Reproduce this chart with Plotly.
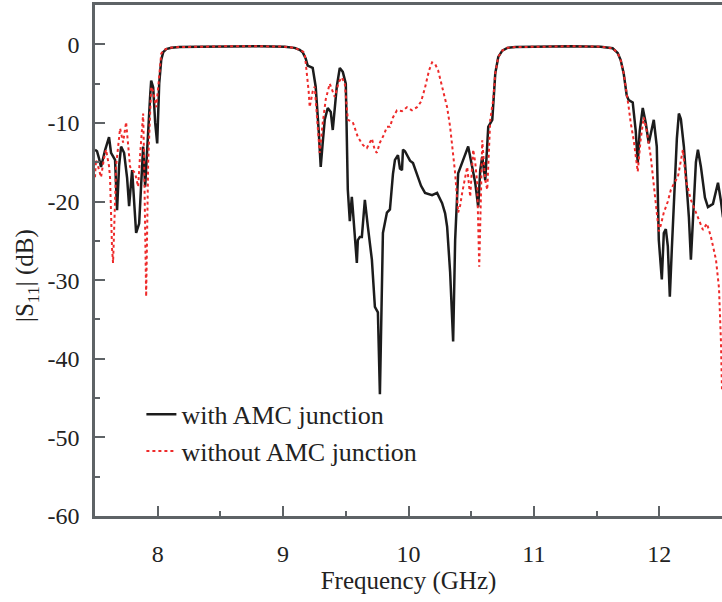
import plotly.graph_objects as go

# with AMC junction
f_with = [7.500, 7.516, 7.532, 7.548, 7.580, 7.612, 7.628, 7.660, 7.676, 7.692, 7.708, 7.732, 7.756, 7.772,
          7.796, 7.828, 7.852, 7.884, 7.900, 7.924, 7.940, 7.948, 7.964, 7.980, 7.996, 8.012, 8.028, 8.044,
          8.068, 8.108, 8.172, 8.332, 8.572, 8.812, 9.012, 9.092, 9.132, 9.156, 9.180, 9.196, 9.236, 9.260,
          9.284, 9.300, 9.316, 9.332, 9.356, 9.380, 9.396, 9.412, 9.428, 9.452, 9.476, 9.500, 9.508, 9.516,
          9.532, 9.548, 9.556, 9.572, 9.588, 9.596, 9.612, 9.628, 9.652, 9.676, 9.708, 9.732, 9.756, 9.772,
          9.788, 9.796, 9.828, 9.852, 9.876, 9.892, 9.916, 9.932, 9.948, 9.956, 9.972, 9.988, 10.012, 10.036,
          10.076, 10.100, 10.132, 10.188, 10.228, 10.268, 10.292, 10.308, 10.332, 10.348, 10.356, 10.372,
          10.396, 10.436, 10.476, 10.508, 10.532, 10.556, 10.572, 10.588, 10.612, 10.636, 10.668, 10.692,
          10.716, 10.748, 10.788, 10.852, 11.052, 11.292, 11.532, 11.628, 11.668, 11.692, 11.716, 11.740,
          11.756, 11.788, 11.812, 11.828, 11.844, 11.868, 11.892, 11.916, 11.956, 11.980, 11.996, 12.020,
          12.036, 12.052, 12.068, 12.084, 12.100, 12.116, 12.140, 12.156, 12.172, 12.196, 12.212, 12.236,
          12.252, 12.268, 12.276, 12.292, 12.308, 12.332, 12.364, 12.388, 12.428, 12.468, 12.492, 12.508]
s_with = [-13.4, -13.6, -14.5, -15.6, -13.5, -11.8, -13.8, -14.7, -21.1, -15.5, -13.0, -13.8, -17.0, -20.6,
          -16.0, -24.0, -22.8, -13.0, -18.1, -10.0, -6.5, -4.6, -5.5, -10.0, -12.6, -5.0, -2.0, -1.0,
          -0.6, -0.45, -0.35, -0.3, -0.25, -0.25, -0.3, -0.45, -0.7, -1.0, -1.8, -2.7, -3.0, -5.4,
          -11.0, -15.6, -12.5, -9.6, -8.1, -8.6, -10.9, -8.0, -5.4, -3.0, -3.5, -5.0, -12.0, -18.5,
          -22.5, -19.4, -21.0, -24.0, -27.8, -24.9, -24.5, -24.5, -19.8, -23.2, -27.4, -33.4, -34.1, -44.5,
          -32.5, -24.0, -21.4, -21.0, -16.5, -14.7, -14.1, -15.8, -16.0, -13.4, -13.6, -14.1, -14.8, -15.1,
          -16.9, -18.0, -18.9, -19.2, -18.9, -20.2, -21.5, -23.2, -29.0, -35.9, -37.8, -24.9,
          -16.4, -14.7, -13.0, -15.6, -17.6, -20.7, -16.0, -14.3, -17.3, -10.5, -9.6, -3.7,
          -1.6, -0.8, -0.45, -0.35, -0.3, -0.25, -0.3, -0.5, -1.1, -2.0, -3.7, -6.5,
          -7.1, -7.4, -11.0, -15.1, -11.0, -8.1, -10.0, -12.6, -9.6, -13.0, -24.9, -29.9,
          -24.0, -23.5, -25.7, -32.1, -26.0, -20.7, -12.0, -8.8, -9.5, -13.0, -16.4, -22.0,
          -27.4, -23.0, -20.7, -15.0, -13.4, -15.6, -19.5, -20.7, -20.3, -17.6, -20.0, -22.0]

# without AMC junction
f_without = [7.500, 7.508, 7.524, 7.548, 7.572, 7.588, 7.612, 7.620, 7.636, 7.644, 7.660, 7.668, 7.700, 7.724,
             7.748, 7.780, 7.820, 7.844, 7.860, 7.884, 7.892, 7.908, 7.924, 7.932, 7.948, 7.964, 7.988, 8.004,
             8.028, 8.052, 8.092, 8.172, 8.332, 8.572, 8.812, 9.012, 9.092, 9.132, 9.156, 9.172, 9.188, 9.204,
             9.212, 9.236, 9.252, 9.276, 9.292, 9.316, 9.340, 9.372, 9.412, 9.444, 9.468, 9.492, 9.516, 9.556,
             9.596, 9.636, 9.668, 9.708, 9.732, 9.748, 9.772, 9.804, 9.828, 9.852, 9.876, 9.908, 9.948, 9.988,
             10.028, 10.068, 10.100, 10.132, 10.164, 10.188, 10.212, 10.236, 10.260, 10.284, 10.308, 10.332,
             10.356, 10.372, 10.396, 10.412, 10.428, 10.452, 10.468, 10.492, 10.516, 10.532, 10.548, 10.564,
             10.580, 10.588, 10.612, 10.628, 10.652, 10.676, 10.692, 10.716, 10.748, 10.788, 10.852, 11.052,
             11.292, 11.532, 11.628, 11.668, 11.692, 11.716, 11.740, 11.756, 11.772, 11.796, 11.828, 11.852,
             11.876, 11.900, 11.932, 11.972, 11.996, 12.012, 12.036, 12.068, 12.092, 12.124, 12.148, 12.188,
             12.212, 12.252, 12.308, 12.348, 12.380, 12.412, 12.452, 12.476, 12.492, 12.500]
s_without = [-16.9, -14.7, -15.5, -16.9, -14.5, -13.4, -15.5, -17.0, -26.0, -27.8, -20.0, -15.5, -10.7, -12.5,
             -9.9, -15.6, -16.4, -18.1, -14.0, -8.8, -15.0, -32.1, -15.0, -11.0, -5.4, -6.0, -8.0, -5.5,
             -1.2, -0.7, -0.45, -0.35, -0.3, -0.25, -0.25, -0.3, -0.45, -0.7, -0.9, -1.1, -3.3, -6.0,
             -8.0, -6.0, -5.4, -10.0, -13.8, -10.0, -7.0, -5.0, -6.7, -4.8, -4.2, -5.0, -9.6, -9.9,
             -11.8, -12.8, -13.2, -12.0, -13.5, -13.8, -12.5, -11.5, -10.5, -10.5, -9.3, -8.4, -8.5, -8.0,
             -8.4, -8.0, -7.3, -5.5, -3.3, -2.3, -2.5, -3.3, -4.8, -6.5, -8.0, -10.5,
             -14.0, -16.4, -21.4, -20.5, -18.9, -17.0, -15.6, -19.4, -13.4, -15.0, -17.6, -28.3,
             -18.0, -12.2, -17.3, -18.5, -9.6, -7.0, -3.7, -1.6, -0.8, -0.45, -0.35, -0.3,
             -0.25, -0.3, -0.5, -1.1, -2.0, -3.7, -6.0, -8.0, -10.0, -12.2, -16.2, -12.0,
             -9.3, -11.0, -14.3, -19.8, -23.8, -23.0, -21.4, -20.0, -18.5, -17.5, -16.9, -13.4,
             -17.3, -19.8, -21.9, -23.6, -22.8, -24.5, -27.4, -31.0, -38.0, -44.0]

x_ticks = [8, 9, 10, 11, 12]
y_ticks = [0, -10, -20, -30, -40, -50, -60]

FONT = "Liberation Serif, Times New Roman, serif"
AXIS_COLOR = "#5e6366"

fig = go.Figure()
fig.add_trace(go.Scatter(x=f_with, y=s_with, mode="lines", name="with AMC junction",
                         line=dict(color="#1c1c1c", width=2.5)))
fig.add_trace(go.Scatter(x=f_without, y=s_without, mode="lines", name="without AMC junction",
                         line=dict(color="#ee2a2a", width=2, dash="dot")))

fig.update_layout(
    width=722, height=602,
    margin=dict(l=95, r=0, t=5, b=86),
    paper_bgcolor="white", plot_bgcolor="white",
    font=dict(family=FONT, size=24, color="#222222"),
    showlegend=True,
    legend=dict(x=0.074, y=0.245, xanchor="left", yanchor="top",
                font=dict(family=FONT, size=26, color="#222222"),
                bgcolor="rgba(0,0,0,0)", traceorder="normal"),
    xaxis=dict(range=[7.5, 12.5], tickvals=x_ticks, ticktext=[str(v) for v in x_ticks],
               ticks="inside", ticklen=10, tickwidth=2, tickcolor=AXIS_COLOR,
               showline=True, linecolor=AXIS_COLOR, linewidth=2.5, mirror=True,
               showgrid=False, zeroline=False, ticklabelstandoff=14,
               minor=dict(ticks="inside", ticklen=5, tickwidth=2, tickcolor=AXIS_COLOR, dtick=0.5, showgrid=False),
               title=dict(text="Frequency (GHz)", font=dict(family=FONT, size=25), standoff=6)),
    yaxis=dict(range=[-60, 5], tickvals=y_ticks, ticktext=[str(v) for v in y_ticks],
               ticks="inside", ticklen=10, tickwidth=2, tickcolor=AXIS_COLOR,
               showline=True, linecolor=AXIS_COLOR, linewidth=2.5, mirror=False,
               showgrid=False, zeroline=False, ticklabelstandoff=8,
               minor=dict(ticks="inside", ticklen=5, tickwidth=2, tickcolor=AXIS_COLOR, dtick=5, showgrid=False)),
    annotations=[dict(text="|S<sub>11</sub>| (dB)", xref="paper", yref="paper",
                      x=-0.108, y=0.47, xanchor="center", yanchor="middle", textangle=-90,
                      showarrow=False, font=dict(family=FONT, size=25, color="#222222"))],
)

fig.write_html("out.html")
